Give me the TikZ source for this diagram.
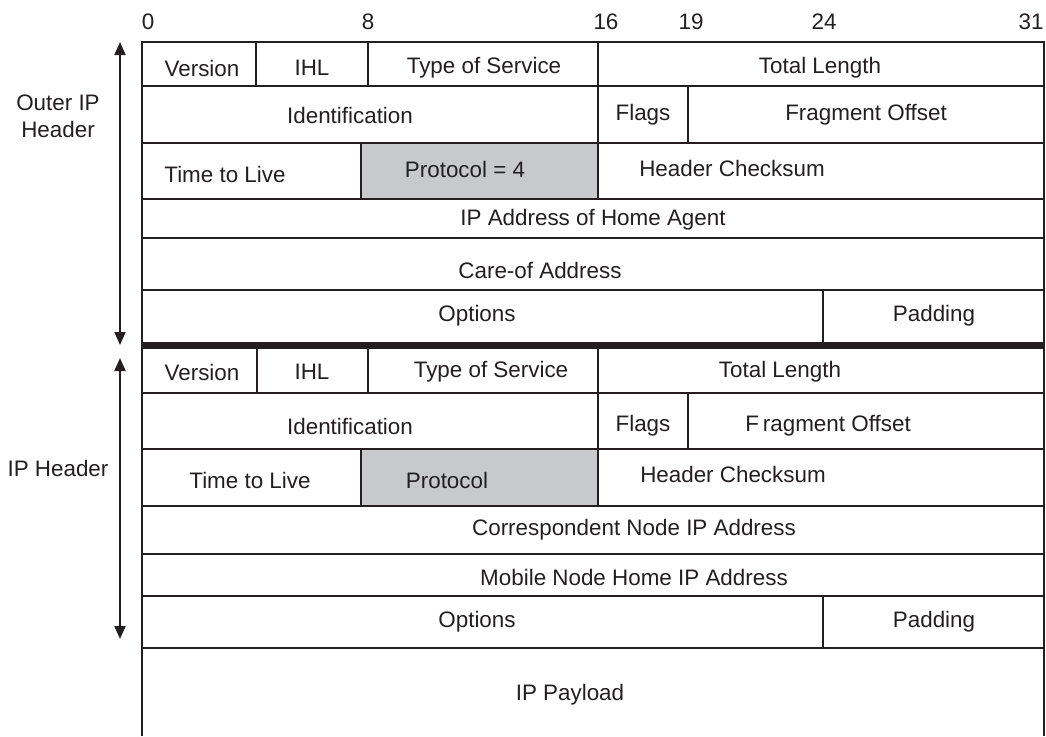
\documentclass[tikz,border=0pt]{standalone}
\usepackage{fontspec}
\setmainfont{Liberation Sans}
\usetikzlibrary{arrows.meta}
\definecolor{ink}{HTML}{231F20}
\definecolor{protfill}{HTML}{C8C9CA}
\begin{document}
\begin{tikzpicture}[x=0.5pt,y=-0.5pt,
  grid/.style={draw=ink, line width=1.25pt},
  sep/.style={draw=ink, line width=3.6pt},
  lbl/.style={font=\fontsize{11.2}{13.5}\selectfont, text=ink, inner sep=0pt, anchor=center, align=center},
  span/.style={draw=ink, line width=1pt, {Triangle[width=5.5pt,length=6.5pt]}-{Triangle[width=5.5pt,length=6.5pt]}}]
\useasboundingbox (0,0) rectangle (1046,736);
% shaded protocol fields
\fill[protfill] (361,143) rectangle (598,199);
\fill[protfill] (361,449) rectangle (598,506);
% outer header grid
\draw[grid] (142,736) -- (142,42) -- (1044,42) -- (1044,736);
\draw[grid] (142,86) -- (1044,86);
\draw[grid] (142,143) -- (1044,143);
\draw[grid] (142,199) -- (1044,199);
\draw[grid] (142,238) -- (1044,238);
\draw[grid] (142,290) -- (1044,290);
\draw[grid] (256,42) -- (256,86);
\draw[grid] (368,42) -- (368,86);
\draw[grid] (598,42) -- (598,143);
\draw[grid] (688,86) -- (688,143);
\draw[grid] (361,143) -- (361,199);
\draw[grid] (598,143) -- (598,199);
\draw[grid] (823,290) -- (823,345);
% separator
\draw[sep] (142,345.5) -- (1044,345.5);
% inner header grid
\draw[grid] (142,393) -- (1044,393);
\draw[grid] (142,449) -- (1044,449);
\draw[grid] (142,506) -- (1044,506);
\draw[grid] (142,554) -- (1044,554);
\draw[grid] (142,596) -- (1044,596);
\draw[grid] (142,648) -- (1044,648);
\draw[grid] (257,349) -- (257,393);
\draw[grid] (368,349) -- (368,393);
\draw[grid] (598,349) -- (598,449);
\draw[grid] (688,393) -- (688,449);
\draw[grid] (361,449) -- (361,506);
\draw[grid] (598,449) -- (598,506);
\draw[grid] (823,596) -- (823,648);
% bit numbers
\node[lbl] (b0)  at (148,22) {0};
\node[lbl] (b8)  at (368,22) {8};
\node[lbl] (b16) at (606,22) {16};
\node[lbl] (b19) at (691,22) {19};
\node[lbl] (b24) at (824,22) {24};
\node[lbl] (b31) at (1031,22) {31};
% outer header fields
\node[lbl] (oVer)  at (202,68) {Version};
\node[lbl] (oIHL)  at (312,68) {IHL};
\node[lbl] (oTOS)  at (484,68) {Type of Service};
\node[lbl] (oTL)   at (820,68) {Total Length};
\node[lbl] (oId)   at (350,115) {Identification};
\node[lbl] (oFl)   at (643,115) {Flags};
\node[lbl] (oFO)   at (866,115) {Fragment Offset};
\node[lbl] (oTTL)  at (225,174) {Time to Live};
\node[lbl] (oPr)   at (465,169) {Protocol = 4};
\node[lbl] (oHC)   at (732,168) {Header Checksum};
\node[lbl] (oHA)   at (593,220) {IP Address of Home Agent};
\node[lbl] (oCoA)  at (540,270) {Care-of Address};
\node[lbl] (oOpt)  at (477,316) {Options};
\node[lbl] (oPad)  at (934,316) {Padding};
% inner header fields
\node[lbl] (iVer)  at (202,372) {Version};
\node[lbl] (iIHL)  at (312,372) {IHL};
\node[lbl] (iTOS)  at (491,372) {Type of Service};
\node[lbl] (iTL)   at (780,372) {Total Length};
\node[lbl] (iId)   at (350,426) {Identification};
\node[lbl] (iFl)   at (643,426) {Flags};
\node[lbl] (iFO)   at (828,426) {F\kern2pt ragment Offset};
\node[lbl] (iTTL)  at (250,480) {Time to Live};
\node[lbl] (iPr)   at (447,480) {Protocol};
\node[lbl] (iHC)   at (733,474) {Header Checksum};
\node[lbl] (iCN)   at (634,530) {Correspondent Node IP Address};
\node[lbl] (iMN)   at (634,577) {Mobile Node Home IP Address};
\node[lbl] (iOpt)  at (477,622) {Options};
\node[lbl] (iPad)  at (934,622) {Padding};
\node[lbl] (iPay)  at (570,695) {IP Payload};
% side labels and spans
\node[lbl] (outerLbl) at (58,116) {Outer IP\\Header};
\node[lbl] (innerLbl) at (58,468) {IP Header};
\coordinate (oTop) at (120,42);
\coordinate (oBot) at (120,345);
\coordinate (iTop) at (120,358);
\coordinate (iBot) at (120,639);
\draw[span] (oTop) -- (oBot);
\draw[span] (iTop) -- (iBot);
\end{tikzpicture}
\end{document}
